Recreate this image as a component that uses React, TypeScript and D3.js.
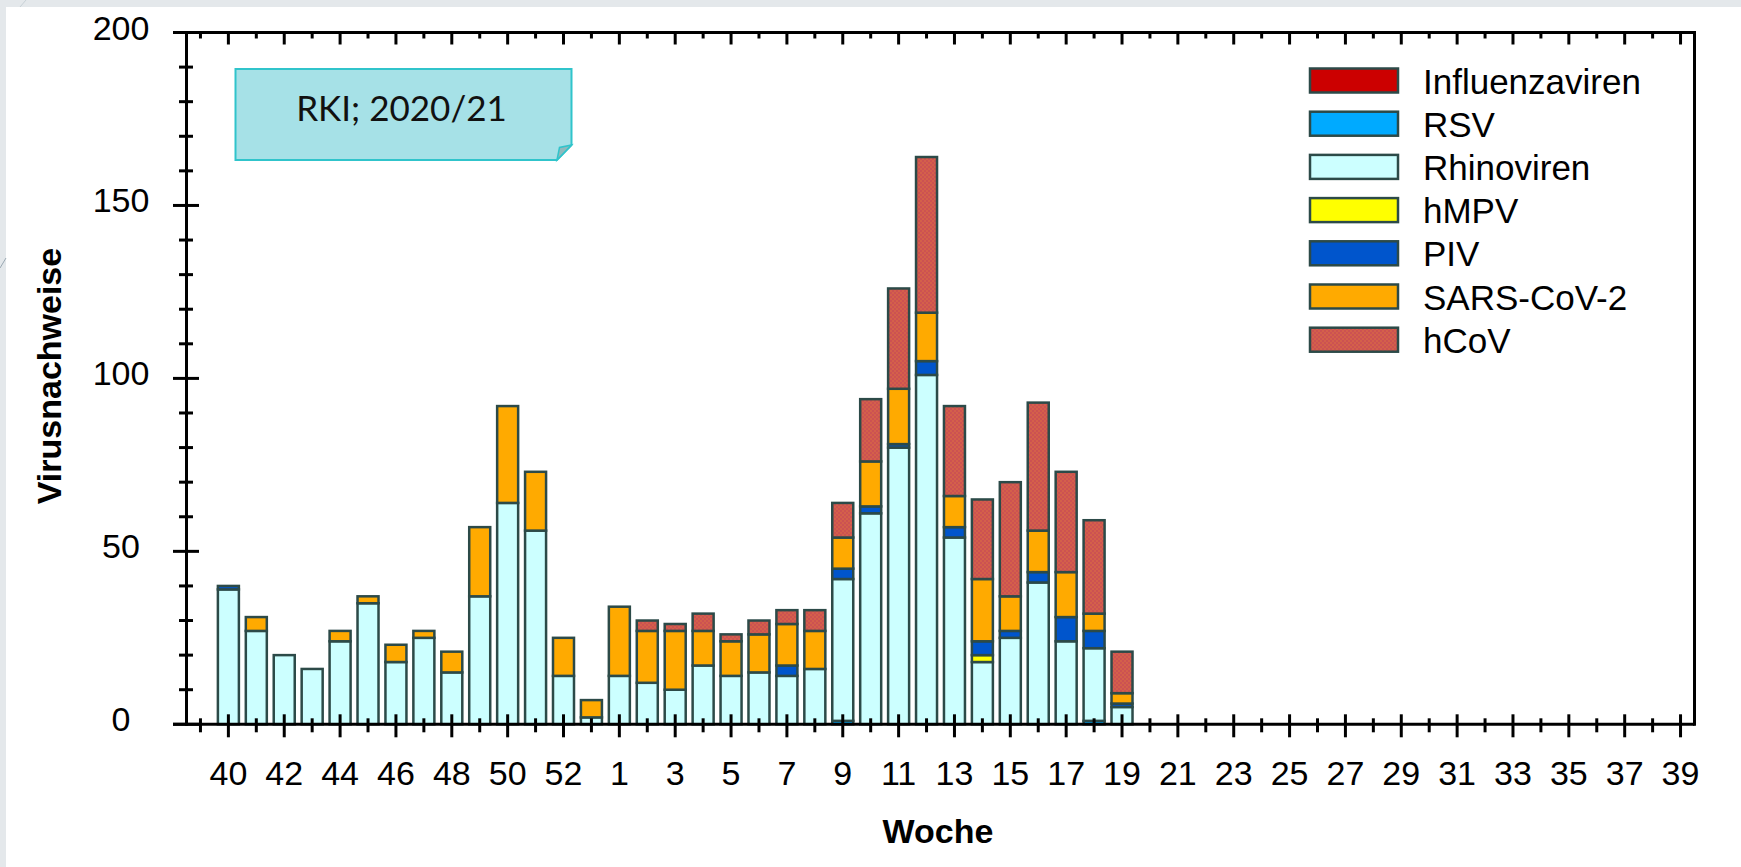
import React from "react";
import * as d3 from "d3";

// Categories (calendar weeks 2020/21, incl. week 53)
const WEEKS = [40, 41, 42, 43, 44, 45, 46, 47, 48, 49, 50, 51, 52, 53, 1, 2, 3, 4, 5, 6, 7, 8, 9, 10, 11, 12, 13, 14, 15, 16, 17, 18, 19, 20, 21, 22, 23, 24, 25, 26, 27, 28, 29, 30, 31, 32, 33, 34, 35, 36, 37, 38, 39];
const TICK_LABELS = ["40", "42", "44", "46", "48", "50", "52", "1", "3", "5", "7", "9", "11", "13", "15", "17", "19", "21", "23", "25", "27", "29", "31", "33", "35", "37", "39"];
const Y_TICKS = [0, 50, 100, 150, 200];
const Y_MINOR = [10, 20, 30, 40, 60, 70, 80, 90, 110, 120, 130, 140, 160, 170, 180, 190];

//                 40 41 42 43 44 45 46 47 48 49 50 51 52 53  1  2  3  4  5  6  7  8  9 10 11  12 13 14 15 16 17 18 19 20..39
const INFLUENZA = [0, 0, 0, 0, 0, 0, 0, 0, 0, 0, 0, 0, 0, 0, 0, 0, 0, 0, 0, 0, 0, 0, 0, 0, 0, 0, 0, 0, 0, 0, 0, 0, 0, 0, 0, 0, 0, 0, 0, 0, 0, 0, 0, 0, 0, 0, 0, 0, 0, 0, 0, 0, 0];
const RSV = [0, 0, 0, 0, 0, 0, 0, 0, 0, 0, 0, 0, 0, 0, 0, 0, 0, 0, 0, 0, 0, 0, 1, 0, 0, 0, 0, 0, 0, 0, 0, 1, 0, 0, 0, 0, 0, 0, 0, 0, 0, 0, 0, 0, 0, 0, 0, 0, 0, 0, 0, 0, 0];
const RHINO = [39, 27, 20, 16, 24, 35, 18, 25, 15, 37, 64, 56, 14, 2, 14, 12, 10, 17, 14, 15, 14, 16, 41, 61, 80, 101, 54, 18, 25, 41, 24, 21, 5, 0, 0, 0, 0, 0, 0, 0, 0, 0, 0, 0, 0, 0, 0, 0, 0, 0, 0, 0, 0];
const HMPV = [0, 0, 0, 0, 0, 0, 0, 0, 0, 0, 0, 0, 0, 0, 0, 0, 0, 0, 0, 0, 0, 0, 0, 0, 0, 0, 0, 2, 0, 0, 0, 0, 0, 0, 0, 0, 0, 0, 0, 0, 0, 0, 0, 0, 0, 0, 0, 0, 0, 0, 0, 0, 0];
const PIV = [1, 0, 0, 0, 0, 0, 0, 0, 0, 0, 0, 0, 0, 0, 0, 0, 0, 0, 0, 0, 3, 0, 3, 2, 1, 4, 3, 4, 2, 3, 7, 5, 1, 0, 0, 0, 0, 0, 0, 0, 0, 0, 0, 0, 0, 0, 0, 0, 0, 0, 0, 0, 0];
const SARS = [0, 4, 0, 0, 3, 2, 5, 2, 6, 20, 28, 17, 11, 5, 20, 15, 17, 10, 10, 11, 12, 11, 9, 13, 16, 14, 9, 18, 10, 12, 13, 5, 3, 0, 0, 0, 0, 0, 0, 0, 0, 0, 0, 0, 0, 0, 0, 0, 0, 0, 0, 0, 0];
const HCOV = [0, 0, 0, 0, 0, 0, 0, 0, 0, 0, 0, 0, 0, 0, 0, 3, 2, 5, 2, 4, 4, 6, 10, 18, 29, 45, 26, 23, 33, 37, 29, 27, 12, 0, 0, 0, 0, 0, 0, 0, 0, 0, 0, 0, 0, 0, 0, 0, 0, 0, 0, 0, 0];

const SERIES_NAMES = ["Influenzaviren", "RSV", "Rhinoviren", "hMPV", "PIV", "SARS-CoV-2", "hCoV"];
const SERIES_VALUES = [INFLUENZA, RSV, RHINO, HMPV, PIV, SARS, HCOV];
const SERIES_COLORS = ["#CC0000", "#00AAFF", "#CCFFFF", "#FFFF00", "#0055CC", "#FFAA00", "url(#hcovPat)"];

const FONT = "'Liberation Sans', Arial, sans-serif";
const OUTLINE = "#2C4A48";

export default function App() {
  const W = 1741;
  const H = 867;
  const left = 186.5;
  const right = 1694.5;
  const x = d3.scaleLinear().domain([-1.5, 52.5]).range([left, right]);
  const y = d3.scaleLinear().domain([0, 200]).range([724.3, 32.5]);
  const barW = 21;

  const table = WEEKS.map((w, i) => {
    const row: Record<string, number> = { idx: i };
    SERIES_NAMES.forEach((n, k) => (row[n] = SERIES_VALUES[k][i]));
    return row;
  });
  const stacked = d3.stack<Record<string, number>>().keys(SERIES_NAMES)(table);

  const tickIdx: number[] = [-1, ...WEEKS.map((_, i) => i)];
  const labelSet = new Set(TICK_LABELS);

  const y0 = y(0);
  const yTop = y(200);

  return (
    <svg width={W} height={H} style={{ position: "absolute", left: 0, top: 0, background: "#fff" }} xmlns="http://www.w3.org/2000/svg">
      <defs>
        <pattern id="hcovPat" width="4" height="4" patternUnits="userSpaceOnUse">
          <rect width="4" height="4" fill="#CC5252" />
          <rect x="0" y="0" width="2" height="2" fill="#D4604A" />
          <rect x="2" y="2" width="2" height="2" fill="#D4604A" />
        </pattern>
      </defs>
      {/* slide background strips */}
      <rect x={0} y={0} width={W} height={7} fill="#E4E8EB" />
      <rect x={0} y={0} width={6} height={H} fill="#E4E8EB" />
      <line x1={0} y1={268} x2={6} y2={258} stroke="#9AA8B2" strokeWidth={1} />
      <line x1={20} y1={7} x2={26} y2={0} stroke="#C8D0D6" strokeWidth={1} />

      {/* bars */}
      {stacked.map((layer, k) => (
        <g key={SERIES_NAMES[k]}>
          {layer.map((d, i) => {
            const v = d[1] - d[0];
            if (v <= 0) return null;
            return (
              <rect
                key={i}
                x={x(i) - barW / 2}
                y={y(d[1])}
                width={barW}
                height={y(d[0]) - y(d[1])}
                fill={SERIES_COLORS[k]}
                stroke={OUTLINE}
                strokeWidth={2.5}
              />
            );
          })}
        </g>
      ))}

      {/* axes frame */}
      <line x1={173} y1={yTop} x2={right} y2={yTop} stroke="#000" strokeWidth={3} />
      <line x1={173} y1={y0} x2={right} y2={y0} stroke="#000" strokeWidth={3} />
      <line x1={left} y1={yTop - 1.5} x2={left} y2={y0 + 1.5} stroke="#000" strokeWidth={3} />
      <line x1={right} y1={yTop - 1.5} x2={right} y2={y0 + 1.5} stroke="#000" strokeWidth={3} />

      {/* y ticks */}
      {Y_TICKS.map((t) => (
        <g key={"yt" + t}>
          <line x1={173} y1={y(t)} x2={199} y2={y(t)} stroke="#000" strokeWidth={3} />
          <text x={121} y={y(t) + 7} textAnchor="middle" fontFamily={FONT} fontSize={34} fill="#000">
            {t}
          </text>
        </g>
      ))}
      {Y_MINOR.map((t) => (
        <line key={"ym" + t} x1={179} y1={y(t)} x2={193} y2={y(t)} stroke="#000" strokeWidth={3} />
      ))}

      {/* x ticks (bottom and top) */}
      {tickIdx.map((i) => {
        const lbl = i >= 0 ? String(WEEKS[i]) : "";
        const major = i >= 0 && labelSet.has(lbl);
        const xp = x(i);
        return (
          <g key={"xt" + i}>
            <line x1={xp} y1={major ? y0 - 10 : y0 - 6} x2={xp} y2={major ? y0 + 13 : y0 + 8} stroke="#000" strokeWidth={3} />
            <line x1={xp} y1={yTop} x2={xp} y2={major ? yTop + 12 : yTop + 6} stroke="#000" strokeWidth={3} />
            {major && (
              <text x={xp} y={785} textAnchor="middle" fontFamily={FONT} fontSize={34} fill="#000">
                {lbl}
              </text>
            )}
          </g>
        );
      })}

      {/* axis titles */}
      <text x={938} y={843} textAnchor="middle" fontFamily={FONT} fontSize={34} fontWeight="bold" fill="#000">
        Woche
      </text>
      <text
        transform={`translate(61, 376) rotate(-90)`}
        textAnchor="middle"
        fontFamily={FONT}
        fontSize={34}
        fontWeight="bold"
        fill="#000"
      >
        Virusnachweise
      </text>

      {/* annotation note */}
      <path d="M235.5,69 L571.5,69 L571.5,145 L557,160 L235.5,160 Z" fill="#A6E1E7" stroke="#30C4CB" strokeWidth={2} />
      <path d="M571.5,145 L557,160 L559.5,147.5 Z" fill="#8FB9BC" stroke="#30C4CB" strokeWidth={1.5} />
      <text x={401.5} y={120.5} textAnchor="middle" fontFamily="Lato, 'Noto Sans', sans-serif" fontSize={35} fill="#111">
        RKI; 2020/21
      </text>

      {/* legend */}
      {SERIES_NAMES.map((n, k) => {
        const ty = 68.5 + k * 43.2;
        return (
          <g key={"lg" + n}>
            <rect x={1310} y={ty} width={88} height={24} fill={SERIES_COLORS[k]} stroke={OUTLINE} strokeWidth={2.5} />
            <text x={1423} y={ty + 25} fontFamily={FONT} fontSize={35} fill="#000">
              {n}
            </text>
          </g>
        );
      })}
    </svg>
  );
}
